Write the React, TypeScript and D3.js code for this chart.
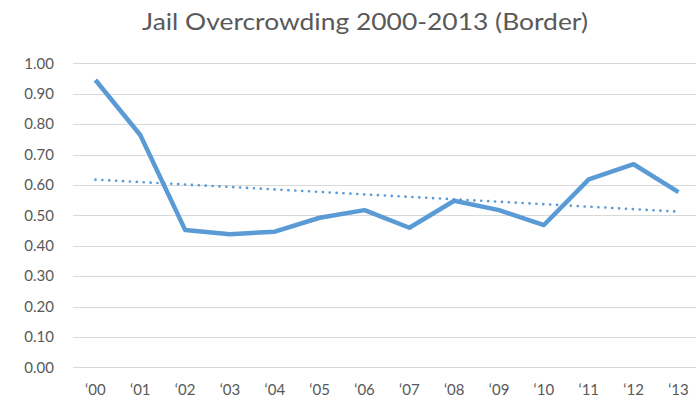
import React, { useEffect, useRef } from "react";
import * as d3 from "d3";

const categories = ["‘00", "‘01", "‘02", "‘03", "‘04", "‘05", "‘06", "‘07", "‘08", "‘09", "‘10", "‘11", "‘12", "‘13"];
const values = [0.945, 0.764, 0.452, 0.438, 0.446, 0.492, 0.517, 0.459, 0.548, 0.517, 0.468, 0.618, 0.668, 0.576];
const yTicks = [0, 0.1, 0.2, 0.3, 0.4, 0.5, 0.6, 0.7, 0.8, 0.9, 1.0];
const title = "Jail Overcrowding 2000-2013 (Border)";

const W = 696;
const H = 400;

export default function App() {
  const ref = useRef<SVGSVGElement | null>(null);

  useEffect(() => {
    const svg = d3.select(ref.current);
    svg.selectAll("*").remove();

    const left = 73;
    const step = 44.85;
    const x = d3
      .scaleBand<string>()
      .domain(categories)
      .range([left, left + step * categories.length]);
    const cx = (c: string) => (x(c) as number) + x.bandwidth() / 2;
    const y = d3.scaleLinear().domain([0, 1]).range([367.3, 63.3]);

    const font = "Lato, 'Open Sans', sans-serif";
    const textColor = "#595959";

    // title
    svg
      .append("text")
      .attr("x", 142)
      .attr("y", 29.5)
      .attr("font-family", font)
      .attr("font-size", 24)
      .attr("fill", textColor)
      .attr("textLength", 446)
      .attr("lengthAdjust", "spacingAndGlyphs")
      .text(title);

    // gridlines
    svg
      .append("g")
      .selectAll("line")
      .data(yTicks)
      .join("line")
      .attr("x1", left)
      .attr("x2", W)
      .attr("y1", (d) => Math.round(y(d)) + 0.5)
      .attr("y2", (d) => Math.round(y(d)) + 0.5)
      .attr("stroke", "#D9D9D9")
      .attr("stroke-width", 1);

    // y labels
    svg
      .append("g")
      .selectAll("text")
      .data(yTicks)
      .join("text")
      .attr("x", 54)
      .attr("y", (d) => y(d) + 5.3)
      .attr("text-anchor", "end")
      .attr("font-family", font)
      .attr("font-size", 15)
      .attr("fill", textColor)
      .text((d) => d3.format(".2f")(d));

    // x labels
    svg
      .append("g")
      .selectAll("text")
      .data(categories)
      .join("text")
      .attr("x", (d) => cx(d))
      .attr("y", 395)
      .attr("text-anchor", "middle")
      .attr("font-family", font)
      .attr("font-size", 15)
      .attr("fill", textColor)
      .text((d) => d);

    // trendline (linear regression)
    const idx = values.map((_, i) => i);
    const mx = d3.mean(idx) as number;
    const my = d3.mean(values) as number;
    const slope =
      d3.sum(idx, (i) => (i - mx) * (values[i] - my)) / d3.sum(idx, (i) => (i - mx) * (i - mx));
    const intercept = my - slope * mx;
    const trend = idx.map((i) => intercept + slope * i);

    const line = d3
      .line<number>()
      .x((_, i) => cx(categories[i]))
      .y((d) => y(d));

    svg
      .append("path")
      .attr("d", line(trend) as string)
      .attr("fill", "none")
      .attr("stroke", "#5B9BD5")
      .attr("stroke-width", 2.6)
      .attr("stroke-linecap", "round")
      .attr("stroke-dasharray", "0.1 6.8");

    svg
      .append("path")
      .attr("d", line(values) as string)
      .attr("fill", "none")
      .attr("stroke", "#5B9BD5")
      .attr("stroke-width", 4.5)
      .attr("stroke-linejoin", "round")
      .attr("stroke-linecap", "butt");
  }, []);

  return (
    <svg
      ref={ref}
      width={W}
      height={H}
      style={{ position: "absolute", left: 0, top: 0, background: "#fff" }}
    />
  );
}
